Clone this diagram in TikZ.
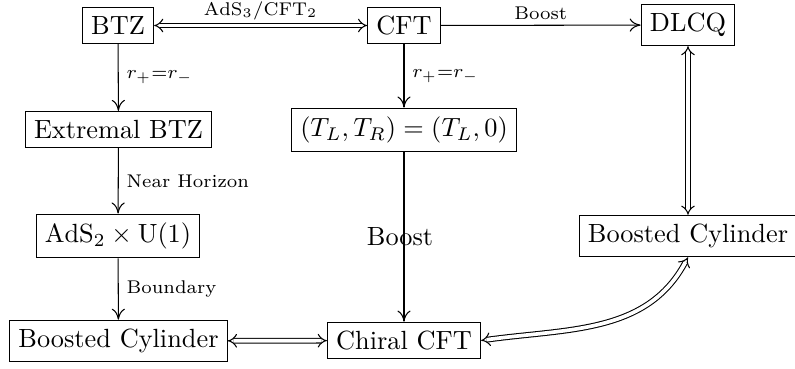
\documentclass[tikz,border=0pt]{standalone}
\usepackage{amsmath}
\usetikzlibrary{arrows.meta}
\begin{document}
\begin{tikzpicture}[x=0.38pt,y=-0.38pt,
  box/.style={draw, inner sep=3.33pt, line width=0.4pt, font=\normalsize},
  arr/.style={line width=0.4pt, -{To[length=4.2pt,width=5pt]}},
  dbl/.style={line width=0.4pt, double, double distance=1.4pt,
    {Implies[length=4.2pt,width=6.5pt]}-{Implies[length=4.2pt,width=6.5pt]}},
  lab/.style={font=\scriptsize, inner sep=2pt}
]
\useasboundingbox (0,0) rectangle (795,369);
\node[box] (btz)  at (118,25.5)  {BTZ};
\node[box] (cft)  at (404,25.5)  {CFT};
\node[box] (dlcq) at (688,25)    {DLCQ};
\node[box] (ext)  at (118.5,129.5) {Extremal BTZ};
\node[box] (tlr)  at (404,130)   {$(T_L,T_R)=(T_L,0)$};
\node[box] (ads)  at (118,236)   {$\mathrm{AdS}_2\times\mathrm{U}(1)$};
\node[box] (bcr)  at (688,236)   {Boosted Cylinder};
\node[box] (bcl)  at (118.5,341) {Boosted Cylinder};
\node[box] (chi)  at (404,340.5) {Chiral CFT};

\draw[dbl] (btz) -- node[lab, above] {$\mathrm{AdS}_3/\mathrm{CFT}_2$} (cft);
\draw[arr] (cft) -- node[lab, above] {Boost} (dlcq);
\draw[arr] (btz) -- node[lab, right, xshift=1pt] {$r_+{=}r_-$} (ext);
\draw[arr] (ext) -- node[lab, right, xshift=1pt] {Near Horizon} (ads);
\draw[arr] (ads) -- node[lab, right, xshift=1pt] {Boundary} (bcl);
\draw[arr] (cft) -- node[lab, right, xshift=1pt] {$r_+{=}r_-$} (tlr);
\draw[arr] (tlr) -- node[midway, xshift=-1.5pt, inner sep=0pt] {Boost} (chi);
\draw[dbl] (dlcq) -- (bcr);
\draw[dbl] (bcl) -- (chi);
\draw[dbl] (chi.east) to[out=8, in=-118] (bcr.south);
\end{tikzpicture}
\end{document}
